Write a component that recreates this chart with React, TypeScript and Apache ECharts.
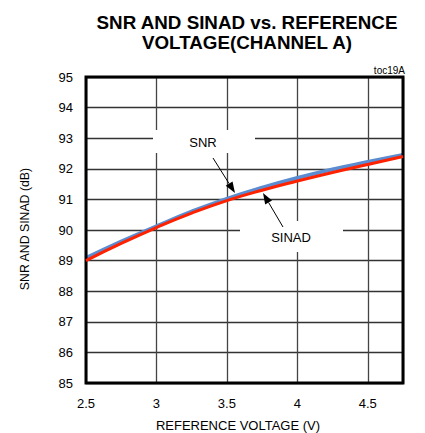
import React, { useEffect, useRef } from "react";
import * as echarts from "echarts";

const voltage = [2.5, 2.75, 3.0, 3.25, 3.5, 3.75, 4.0, 4.25, 4.5, 4.75];
const snr = [89.08, 89.62, 90.12, 90.6, 91.02, 91.38, 91.7, 91.98, 92.22, 92.45];
const sinad = [89.0, 89.56, 90.08, 90.55, 90.96, 91.3, 91.6, 91.88, 92.14, 92.4];
const xTicks = ["2.5", "3", "3.5", "4", "4.5"];

const FONT = "Liberation Sans, Arial, sans-serif";

function arrow(x1: number, y1: number, x2: number, y2: number) {
  const dx = x2 - x1;
  const dy = y2 - y1;
  const len = Math.sqrt(dx * dx + dy * dy);
  const ux = dx / len;
  const uy = dy / len;
  const hl = 11;
  const hw = 4;
  const bx = x2 - ux * hl;
  const by = y2 - uy * hl;
  return [
    {
      type: "line",
      z: 5,
      shape: { x1, y1, x2: bx, y2: by },
      style: { stroke: "#000", lineWidth: 1 },
    },
    {
      type: "polygon",
      z: 5,
      shape: {
        points: [
          [x2, y2],
          [bx - uy * hw, by + ux * hw],
          [bx + uy * hw, by - ux * hw],
        ],
      },
      style: { fill: "#000" },
    },
  ];
}

export default function App() {
  const ref = useRef<HTMLDivElement>(null);
  useEffect(() => {
    if (!ref.current) return;
    const chart = echarts.init(ref.current, null, { renderer: "svg" });
    const option: any = {
      animation: false,
      backgroundColor: "#fff",
      grid: {
        left: 86,
        right: 22,
        top: 77,
        bottom: 50,
        show: true,
        borderColor: "#000",
        borderWidth: 3,
        backgroundColor: "transparent",
        z: 3,
      },
      xAxis: {
        type: "value",
        min: 2.5,
        max: 4.75,
        interval: 0.5,
        axisLine: { show: false },
        axisTick: { show: false },
        splitLine: { show: true, lineStyle: { color: "#444", width: 1.3 } },
        axisLabel: {
          showMaxLabel: false,
          margin: 14,
          color: "#000",
          fontFamily: FONT,
          fontSize: 13,
          formatter: (v: number) => {
            const i = Math.round((v - 2.5) / 0.5);
            return Math.abs(v - (2.5 + i * 0.5)) < 1e-6 && i < xTicks.length ? xTicks[i] : "";
          },
        },
      },
      yAxis: {
        type: "value",
        min: 85,
        max: 95,
        interval: 1,
        axisLine: { show: false },
        axisTick: { show: false },
        splitLine: { show: true, lineStyle: { color: "#333", width: 1.3 } },
        axisLabel: { margin: 13, color: "#000", fontFamily: FONT, fontSize: 13 },
      },
      series: [
        {
          name: "SNR",
          type: "line",
          data: voltage.map((x, i) => [x, snr[i]]),
          smooth: true,
          showSymbol: false,
          lineStyle: { color: "#5b8bd0", width: 4 },
          z: 2,
        },
        {
          name: "SINAD",
          type: "line",
          data: voltage.map((x, i) => [x, sinad[i]]),
          smooth: true,
          showSymbol: false,
          lineStyle: { color: "#ff2200", width: 3 },
          z: 3,
        },
      ],
      graphic: [
        {
          type: "text",
          x: 247,
          y: 12,
          style: {
            text: "SNR AND SINAD vs. REFERENCE\nVOLTAGE(CHANNEL A)",
            textAlign: "center",
            fill: "#000",
            font: "bold 18.8px " + FONT,
            lineHeight: 20,
          },
        },
        {
          type: "text",
          x: 405,
          y: 65,
          style: { text: "toc19A", textAlign: "right", fill: "#000", font: "10px " + FONT },
        },
        {
          type: "text",
          x: 25,
          y: 229,
          rotation: Math.PI / 2,
          style: {
            text: "SNR AND SINAD (dB)",
            textAlign: "center",
            textVerticalAlign: "middle",
            fill: "#000",
            font: "12.3px " + FONT,
          },
        },
        {
          type: "text",
          x: 238,
          y: 419,
          style: {
            text: "REFERENCE VOLTAGE (V)",
            textAlign: "center",
            fill: "#000",
            font: "13px " + FONT,
          },
        },
        {
          type: "rect",
          z: 1,
          shape: { x: 153, y: 130, width: 102, height: 23 },
          style: { fill: "#fff" },
        },
        {
          type: "text",
          z: 5,
          x: 203,
          y: 142,
          style: {
            text: "SNR",
            textAlign: "center",
            textVerticalAlign: "middle",
            fill: "#000",
            font: "13px " + FONT,
          },
        },
        {
          type: "rect",
          z: 1,
          shape: { x: 240, y: 221, width: 103, height: 31 },
          style: { fill: "#fff" },
        },
        {
          type: "text",
          z: 5,
          x: 291,
          y: 237,
          style: {
            text: "SINAD",
            textAlign: "center",
            textVerticalAlign: "middle",
            fill: "#000",
            font: "13px " + FONT,
          },
        },
        ...arrow(213, 158, 235, 193),
        ...arrow(283, 227, 263, 193),
      ],
    };
    chart.setOption(option);
    return () => chart.dispose();
  }, []);
  return (
    <div
      ref={ref}
      style={{ position: "fixed", left: 0, top: 0, width: 425, height: 433 }}
    />
  );
}
